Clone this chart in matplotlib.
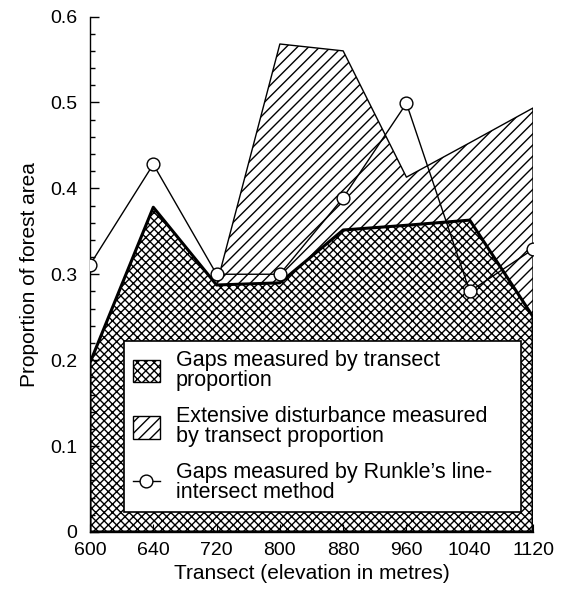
import matplotlib
matplotlib.use('Agg')
import matplotlib.pyplot as plt
from matplotlib.ticker import MultipleLocator, FuncFormatter
import numpy as np

plt.rcParams['font.family'] = ['Liberation Sans', 'DejaVu Sans']
plt.rcParams['hatch.linewidth'] = 1.0

# Data
transects = ['600', '640', '720', '800', '880', '960', '1040', '1120']
gaps_transect = [0.197, 0.378, 0.2875, 0.290, 0.3515, 0.357, 0.363, 0.2506]
# extensive disturbance (stacked on top of gaps), only from 720 m upwards
dist_transects = ['720', '800', '880', '960', '1040', '1120']
dist_top = [0.2875, 0.568, 0.560, 0.413, 0.453, 0.4935]
runkle = [0.311, 0.428, 0.300, 0.300, 0.389, 0.499, 0.280, 0.329]

x = np.arange(len(transects))
x_dist = np.array([transects.index(t) for t in dist_transects])
gaps_at_dist = np.array(gaps_transect)[x_dist]

fig = plt.figure(figsize=(5.7, 5.96), dpi=100)
ax = fig.add_axes([0.1579, 0.1074, 0.7772, 0.8649])

dist_fill = ax.fill_between(x_dist, gaps_at_dist, dist_top, facecolor='white',
                            edgecolor='black', hatch='///', linewidth=1.0, zorder=1)
gaps_fill = ax.fill_between(x, 0, gaps_transect, facecolor='white',
                            edgecolor='black', hatch='xxxx', linewidth=2.2, zorder=1.2)
runkle_line, = ax.plot(x, runkle, color='black', linewidth=1.0, marker='o',
                       markersize=9.2, markerfacecolor='white',
                       markeredgecolor='black', markeredgewidth=1.0, zorder=3)

ax.set_xlim(0, len(transects) - 1)
ax.set_ylim(0, 0.6)
ax.set_xticks(x)
ax.set_xticklabels(transects)
ax.yaxis.set_major_locator(MultipleLocator(0.1))
ax.yaxis.set_minor_locator(MultipleLocator(0.02))
ax.yaxis.set_major_formatter(FuncFormatter(lambda v, p: '0' if abs(v) < 1e-9 else f'{v:.1f}'))

ax.spines['top'].set_visible(False)
ax.spines['right'].set_visible(False)
ax.spines['left'].set_linewidth(1.0)
ax.spines['bottom'].set_linewidth(1.0)

ax.tick_params(axis='y', which='major', direction='in', length=6.5, width=1,
               labelsize=14, pad=9)
ax.tick_params(axis='y', which='minor', direction='in', length=3.6, width=1)
ax.tick_params(axis='x', which='major', direction='in', length=6, width=0.8,
               labelsize=14, pad=7)

ax.set_xlabel('Transect (elevation in metres)', fontsize=15, labelpad=4)
ax.set_ylabel('Proportion of forest area', fontsize=15, labelpad=8)

leg = ax.legend([gaps_fill, dist_fill, runkle_line],
                ['Gaps measured by transect\nproportion',
                 'Extensive disturbance measured\nby transect proportion',
                 'Gaps measured by Runkle\u2019s line-\nintersect method'],
                loc='upper left', bbox_to_anchor=(0.0767, 0.0446, 0.896, 0.326),
                mode='expand', borderaxespad=0, fontsize=15.5, frameon=True,
                fancybox=False, framealpha=1, edgecolor='black',
                handlelength=1.25, handleheight=1.25, handletextpad=0.75,
                labelspacing=0.7, borderpad=0.4)
leg.get_frame().set_linewidth(1.2)
leg.set_zorder(5)
for t in leg.get_texts():
    t.set_linespacing(0.95)
for h in leg.legend_handles[:2]:
    h.set_linewidth(1.0)

fig.savefig('out.png', dpi=100)
